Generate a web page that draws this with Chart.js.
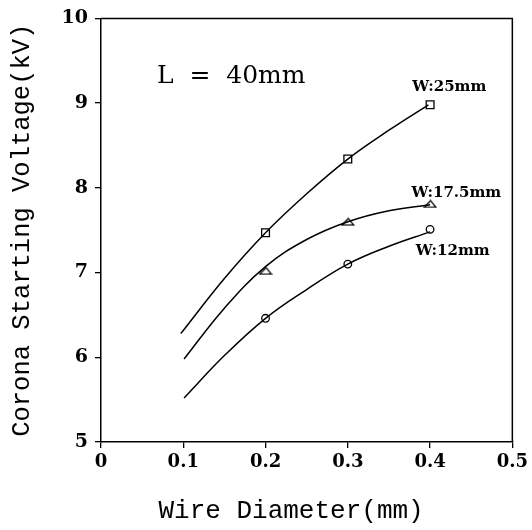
<!DOCTYPE html>
<html><head><meta charset="utf-8">
<script src="https://cdn.jsdelivr.net/npm/chart.js@4"></script>
<style>html,body{margin:0;padding:0;background:#fff}</style>
</head><body>
<canvas id="c" width="532" height="530"></canvas>
<script>
// ---- data ----
const markerX = [0.2, 0.3, 0.4];
const w25Markers = [7.47, 8.34, 8.98];
const w175Markers = [7.02, 7.60, 7.81];
const w12Markers = [6.46, 7.10, 7.51];

const w25CurveX = [0.097, 0.15, 0.2, 0.25, 0.3, 0.35, 0.398];
const w25CurveY = [6.28, 6.93, 7.47, 7.93, 8.34, 8.68, 8.98];
const w175CurveX = [0.101, 0.15, 0.2, 0.25, 0.3, 0.35, 0.40];
const w175CurveY = [5.98, 6.58, 7.07, 7.39, 7.60, 7.73, 7.80];
const w12CurveX = [0.101, 0.15, 0.2, 0.25, 0.3, 0.35, 0.40];
const w12CurveY = [5.52, 6.02, 6.46, 6.80, 7.10, 7.31, 7.48];

const seriesLabels = ['W:25mm', 'W:17.5mm', 'W:12mm'];
const noteText = 'L  =  40mm';
const xTitle = 'Wire Diameter(mm)';
const yTitle = 'Corona Starting Voltage(kV)';

// ---- build ----
const pts = (xs, ys) => xs.map((x, i) => ({x, y: ys[i]}));

const tri = document.createElement('canvas');
tri.width = 14; tri.height = 9;
{
  const t = tri.getContext('2d');
  t.beginPath(); t.moveTo(1.2, 7.8); t.lineTo(12.8, 7.8); t.lineTo(7.5, 1.2); t.closePath();
  t.fillStyle = '#fff'; t.fill(); t.lineWidth = 1.3; t.strokeStyle = '#000'; t.stroke();
}

const curve = (xs, ys) => ({
  type: 'line', data: pts(xs, ys), borderColor: '#000', borderWidth: 1.5,
  pointRadius: 0, tension: 0.4, fill: false
});
const marks = (ys, style, r) => ({
  type: 'scatter', data: pts(markerX, ys), pointStyle: style, pointRadius: r,
  borderColor: '#000', backgroundColor: '#fff', borderWidth: 1.3, showLine: false
});

const annotations = [
  {text: seriesLabels[0], x: 0.4234, y: 9.142, font: 'bold 15px "DejaVu Serif"', align: 'center'},
  {text: seriesLabels[1], x: 0.432, y: 7.889, font: 'bold 15px "DejaVu Serif"', align: 'center'},
  {text: seriesLabels[2], x: 0.4275, y: 7.206, font: 'bold 15px "DejaVu Serif"', align: 'center'},
  {text: noteText, x: 0.068, y: 9.235, font: '25px "DejaVu Serif"', align: 'left'}
];

const textPlugin = {
  id: 'texts',
  afterDatasetsDraw(chart) {
    const {ctx, scales: {x, y}, chartArea: a} = chart;
    ctx.save();
    ctx.strokeStyle = '#000'; ctx.lineWidth = 1.5;
    ctx.beginPath();
    ctx.moveTo(a.left, a.top); ctx.lineTo(a.right, a.top); ctx.lineTo(a.right, a.bottom);
    ctx.stroke();
    ctx.fillStyle = '#000'; ctx.textBaseline = 'alphabetic';
    annotations.forEach(n => {
      ctx.font = n.font; ctx.textAlign = n.align;
      ctx.fillText(n.text, x.getPixelForValue(n.x), y.getPixelForValue(n.y));
    });
    ctx.restore();
  }
};

const axisCommon = {
  grid: {drawOnChartArea: false, drawTicks: true, tickLength: 6, color: '#000', lineWidth: 1.3},
  border: {display: true, color: '#000', width: 1.5}
};

new Chart(document.getElementById('c'), {
  data: {
    datasets: [
      curve(w25CurveX, w25CurveY),
      curve(w175CurveX, w175CurveY),
      curve(w12CurveX, w12CurveY),
      marks(w25Markers, 'rect', 5.5),
      marks(w175Markers, tri, 5),
      marks(w12Markers, 'circle', 3.8)
    ]
  },
  options: {
    responsive: false, animation: false, devicePixelRatio: 1,
    layout: {padding: {top: 15, right: 17, left: 0, bottom: 0}},
    plugins: {legend: {display: false}, tooltip: {enabled: false}},
    scales: {
      x: {
        type: 'linear', min: 0, max: 0.5,
        ticks: {stepSize: 0.1, color: '#000', padding: 4, maxRotation: 0,
          font: {family: '"DejaVu Serif"', size: 18, weight: 'bold'}},
        title: {display: true, text: xTitle + '  ', color: '#000', padding: {top: 0, bottom: 6},
          font: {family: '"Liberation Mono"', size: 26, lineHeight: 1}},
        afterFit(s) { s.height = 88; },
        ...axisCommon
      },
      y: {
        type: 'linear', min: 5, max: 10,
        ticks: {stepSize: 1, color: '#000', padding: 7,
          font: {family: '"DejaVu Serif"', size: 19, weight: 'bold'}},
        title: {display: true, text: yTitle, color: '#000', padding: {top: 9, bottom: 0},
          font: {family: '"Liberation Mono"', size: 25.5, lineHeight: 1}},
        afterFit(s) { s.width = 101; },
        ...axisCommon
      }
    }
  },
  plugins: [textPlugin]
});
</script>
</body></html>
